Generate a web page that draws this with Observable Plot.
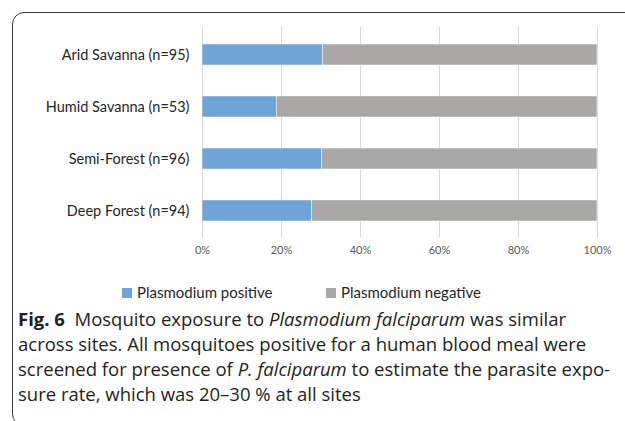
<!DOCTYPE html>
<html>
<head>
<meta charset="utf-8">
<script src="https://cdn.jsdelivr.net/npm/d3@7"></script>
<script src="https://cdn.jsdelivr.net/npm/@observablehq/plot@0.6"></script>
<style>
  html, body { margin: 0; padding: 0; background: #fff; width: 625px; height: 421px; overflow: hidden; }
  #frame { position: absolute; left: 12px; top: 12px; width: 700px; height: 412px; border: 1px solid #3a3a3a; border-radius: 12px; }
  #chart { position: absolute; left: 0; top: 0; }
  #legend { position: absolute; top: 283px; left: 0; width: 625px; height: 18px; font-family: Lato, sans-serif; font-size: 15px; color: #262626; }
  .sw { position: absolute; top: 0; white-space: nowrap; line-height: 18px; }
  .sw i { display: inline-block; width: 10px; height: 10px; margin-right: 5px; vertical-align: 0px; }
  #caption { position: absolute; left: 18px; top: 306px; font-family: "Open Sans", sans-serif; font-size: 18.5px; line-height: 25px; color: #231f20; white-space: nowrap; }
  #caption b { font-weight: 700; }
</style>
</head>
<body>
<div id="frame"></div>
<div id="chart"></div>
<div id="legend"></div>
<div id="caption"></div>
<script>
// ---- data ----
const sites = ["Arid Savanna (n=95)", "Humid Savanna (n=53)", "Semi-Forest (n=96)", "Deep Forest (n=94)"];
const positivePct = [30.5, 18.8, 30.2, 27.7];
const negativePct = [69.5, 81.2, 69.8, 72.3];
const seriesNames = ["Plasmodium positive", "Plasmodium negative"];
const seriesColors = ["#70a3d6", "#a9a8a6"];
const xTicks = [0, 20, 40, 60, 80, 100];
const captionLines = [
  "<b>Fig. 6</b>&nbsp; Mosquito exposure to <i>Plasmodium falciparum</i> was similar",
  "across sites. All mosquitoes positive for a human blood meal were",
  "screened for presence of <i>P. falciparum</i> to estimate the parasite expo-",
  "sure rate, which was 20–30 % at all sites"
];

const rows = [];
sites.forEach((s, i) => {
  rows.push({site: s, series: seriesNames[0], value: positivePct[i]});
  rows.push({site: s, series: seriesNames[1], value: negativePct[i]});
});

const chart = Plot.plot({
  width: 625,
  height: 265,
  marginTop: 27,
  marginBottom: 27,
  marginLeft: 202,
  marginRight: 28,
  style: {fontFamily: "Lato, sans-serif", background: "transparent"},
  x: {domain: [0, 100], ticks: xTicks, tickFormat: d => d + "%", label: null},
  y: {domain: sites, paddingInner: 0.6, paddingOuter: 0.3, label: null},
  color: {domain: seriesNames, range: seriesColors},
  marks: [
    Plot.gridX(xTicks, {stroke: "#d9d9d9", strokeOpacity: 1, strokeWidth: 1}),
    Plot.barX(rows, Plot.stackX({x: "value", y: "site", fill: "series", order: seriesNames, stroke: "#fff", strokeWidth: 0.5})),
    Plot.axisX({ticks: xTicks, tickFormat: d => d + "%", tickSize: 0, tickPadding: 8, fontSize: 11, fill: "#595959", label: null}),
    Plot.axisY({tickSize: 0, tickPadding: 13, fontSize: 14.5, fill: "#262626", label: null})
  ]
});
document.getElementById("chart").appendChild(chart);

// legend
const leg = document.getElementById("legend");
const legX = [122, 326];
seriesNames.forEach((n, i) => {
  const d = document.createElement("div");
  d.className = "sw";
  d.style.left = legX[i] + "px";
  d.innerHTML = `<i style="background:${seriesColors[i]}"></i>${n}`;
  leg.appendChild(d);
});

document.getElementById("caption").innerHTML = captionLines.join("<br>");
</script>
</body>
</html>
